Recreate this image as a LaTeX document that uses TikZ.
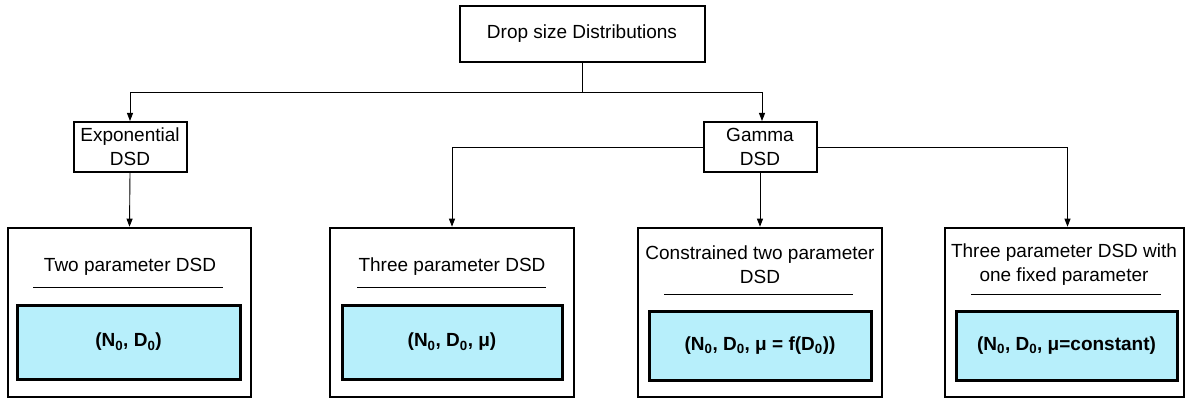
\documentclass[tikz,border=0pt]{standalone}
\usepackage{fontspec}
\setmainfont{Liberation Sans}
\usepackage{xcolor}
\usetikzlibrary{arrows.meta,positioning}
\definecolor{paramcyan}{RGB}{183,239,251}

\begin{document}
\begin{tikzpicture}[
  x=1pt, y=-1pt,
  font=\fontsize{19}{24}\selectfont,
  headbox/.style={rectangle, draw, line width=2pt, inner sep=0pt, align=center},
  groupbox/.style={rectangle, draw, line width=2.6pt, inner sep=0pt, minimum height=169pt},
  parambox/.style={rectangle, draw, line width=3pt, fill=paramcyan, inner sep=0pt, font=\fontsize{19}{24}\selectfont\bfseries},
  heading/.style={align=center, inner sep=0pt},
  rule/.style={line width=0.9pt},
  arrow/.style={-{Triangle[length=8pt,width=6pt]}, line width=0.9pt}
]
  \fill[white] (0,0) rectangle (1190,401);
  \useasboundingbox (0,0) rectangle (1190,401);

  % Top
  \node[headbox, minimum width=245pt, minimum height=56pt] (dsd) at (582,34) {Drop size Distributions};

  % Families
  \node[headbox, minimum width=113pt, minimum height=50pt] (expo) at (130,147) {Exponential\\DSD};
  \node[headbox, minimum width=113pt, minimum height=50pt] (gamma) at (760,147) {Gamma\\DSD};

  % Groups
  \node[groupbox, minimum width=243pt] (twopar) at (129.5,312.5) {};
  \node[groupbox, minimum width=244pt] (threepar) at (452,312.5) {};
  \node[groupbox, minimum width=244pt] (constr) at (760,312.5) {};
  \node[groupbox, minimum width=239pt] (fixed) at (1064.5,312.5) {};

  \node[heading] (twotitle) at (130,267) {Two parameter DSD};
  \node[heading] (threetitle) at (452,267) {Three parameter DSD};
  \node[heading] (constrtitle) at (760,265) {Constrained two parameter\\DSD};
  \node[heading] (fixedtitle) at (1064,265) {Three parameter DSD with\\one fixed parameter};

  \draw[rule] (33,287) -- (223,287);
  \draw[rule] (357,287) -- (546,287);
  \draw[rule] (664,294) -- (853,294);
  \draw[rule] (971,294) -- (1161,294);

  \node[parambox, minimum width=223pt, minimum height=74pt] (twoset) at (128.5,342) {(N\textsubscript{0}, D\textsubscript{0})};
  \node[parambox, minimum width=220pt, minimum height=74pt] (threeset) at (452,342) {(N\textsubscript{0}, D\textsubscript{0}, μ)};
  \node[parambox, minimum width=222pt, minimum height=69pt] (constrset) at (760,345.5) {(N\textsubscript{0}, D\textsubscript{0}, μ = f(D\textsubscript{0}))};
  \node[parambox, minimum width=221pt, minimum height=69pt] (fixedset) at (1066.5,345.5) {(N\textsubscript{0}, D\textsubscript{0}, μ=constant)};

  % Connectors
  \coordinate (split) at (582,92);
  \draw[line width=0.9pt] (dsd.south) -- (split);
  \draw[arrow] (split) -| (expo.north);
  \draw[arrow] (split) -| ([xshift=2pt]gamma.north);
  \draw[arrow] (expo.south) -- (twopar.north);
  \draw[arrow] (gamma.west) -| (threepar.north);
  \draw[arrow] (gamma.south) -- (constr.north);
  \draw[arrow] (gamma.east) -| ([xshift=3pt]fixed.north);
\end{tikzpicture}
\end{document}
